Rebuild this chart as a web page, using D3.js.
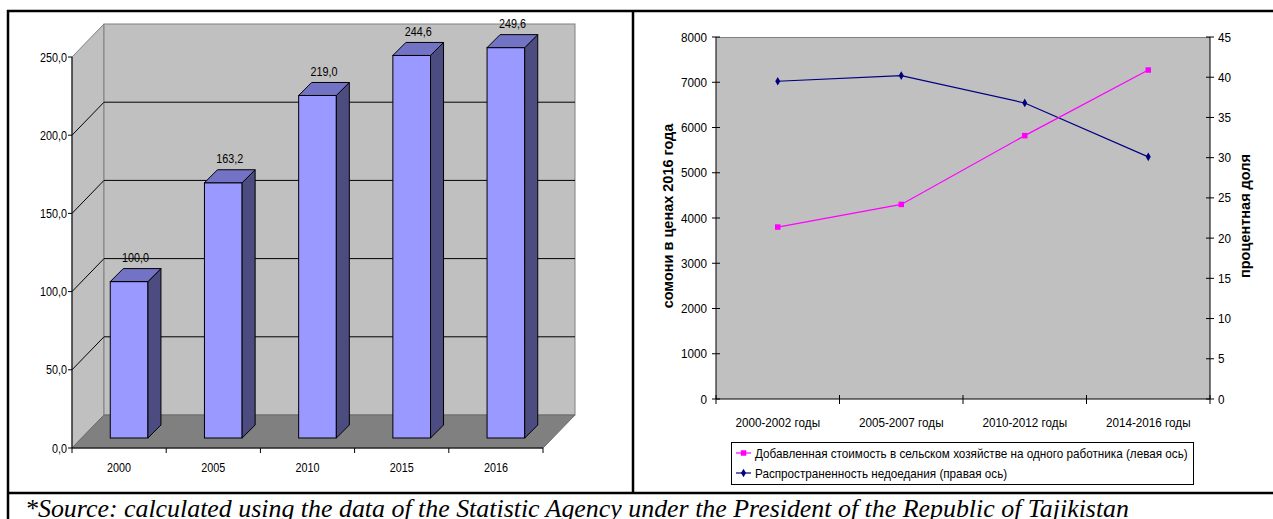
<!DOCTYPE html>
<html>
<head>
<meta charset="utf-8">
<script src="https://cdn.jsdelivr.net/npm/d3@7"></script>
<style>
  html, body { margin: 0; padding: 0; background: #fff; }
  svg { display: block; }
  text { font-family: "Liberation Sans", Arial, sans-serif; fill: #000; }
</style>
</head>
<body>
<svg id="chart" width="1273" height="519"></svg>
<script>
// Left panel: index of growth (2000 = 100)
const years = ["2000", "2005", "2010", "2015", "2016"];
const indexValues = [100.0, 163.2, 219.0, 244.6, 249.6];
const indexTicks = [0, 50, 100, 150, 200, 250];

// Right panel: value added per worker and prevalence of undernourishment
const periods = ["2000-2002 годы", "2005-2007 годы", "2010-2012 годы", "2014-2016 годы"];
const valueAdded = [3800, 4300, 5820, 7270];
const undernourishment = [39.5, 40.2, 36.8, 30.1];
const leftTicks = [0, 1000, 2000, 3000, 4000, 5000, 6000, 7000, 8000];
const rightTicks = [0, 5, 10, 15, 20, 25, 30, 35, 40, 45];
const seriesNames = [
  "Добавленная стоимость в сельском хозяйстве на одного работника (левая ось)",
  "Распространенность недоедания (правая ось)"
];
const leftTitle = "сомони в ценах 2016 года";
const rightTitle = "процентная доля";
const sourceNote = "*Source: calculated using the data of the Statistic Agency under the President of the Republic of Tajikistan";

const svg = d3.select("#chart");
const fmt = d => d.toFixed(1).replace(".", ",");

// Narrow chart lettering: text is placed at (x, y) and squeezed horizontally.
function label(parent, x, y, str, opts = {}) {
  const sx = opts.sx ?? 0.83;
  return parent.append("text")
    .attr("transform", `translate(${x},${y}) scale(${sx},1)`)
    .attr("dy", opts.dy ?? "0.35em")
    .attr("text-anchor", opts.anchor ?? "middle")
    .attr("font-size", opts.size ?? 13)
    .text(str);
}

// ---------- 3D column chart ----------
const g1 = svg.append("g");
const floorL = 72, floorR = 543, depthX = 32, depthY = 33;
const xb = d3.scaleBand().domain(years).range([floorL, floorR]).paddingInner(0.6).paddingOuter(0.3);
const yb = d3.scaleLinear().domain([0, 250]).range([448, 57]);
const y0 = yb(0), yTopWall = yb(250);

// left wall
g1.append("polygon")
  .attr("points", [[floorL, yTopWall], [floorL + depthX, yTopWall - depthY], [floorL + depthX, y0 - depthY], [floorL, y0]].join(" "))
  .attr("fill", "#c0c0c0").attr("stroke", "#808080").attr("stroke-width", 1);
// back wall
g1.append("rect")
  .attr("x", floorL + depthX).attr("y", yTopWall - depthY)
  .attr("width", floorR - floorL).attr("height", y0 - yTopWall)
  .attr("fill", "#c0c0c0").attr("stroke", "#808080").attr("stroke-width", 1);
// floor
g1.append("polygon")
  .attr("points", [[floorL, y0], [floorR, y0], [floorR + depthX, y0 - depthY], [floorL + depthX, y0 - depthY]].join(" "))
  .attr("fill", "#808080").attr("stroke", "#6a6a6a").attr("stroke-width", 1);

// gridlines on walls
const gridVals = indexTicks.filter(v => v > 0 && v < 250);
g1.selectAll("line.gback").data(gridVals).join("line")
  .attr("x1", floorL + depthX).attr("x2", floorR + depthX)
  .attr("y1", d => yb(d) - depthY).attr("y2", d => yb(d) - depthY)
  .attr("stroke", "#000").attr("stroke-width", 1);
g1.selectAll("line.gside").data(gridVals).join("line")
  .attr("x1", floorL).attr("x2", floorL + depthX)
  .attr("y1", d => yb(d)).attr("y2", d => yb(d) - depthY)
  .attr("stroke", "#000").attr("stroke-width", 1);

// value axis
g1.append("line").attr("x1", floorL).attr("x2", floorL).attr("y1", yTopWall).attr("y2", y0)
  .attr("stroke", "#000");
g1.selectAll("line.ytick").data(indexTicks).join("line")
  .attr("x1", floorL - 4).attr("x2", floorL)
  .attr("y1", d => yb(d)).attr("y2", d => yb(d)).attr("stroke", "#000");
indexTicks.forEach(v => label(g1, floorL - 5, yb(v), fmt(v), { anchor: "end" }));

// category axis
g1.append("line").attr("x1", floorL).attr("x2", floorR).attr("y1", y0).attr("y2", y0).attr("stroke", "#000");
const catEdges = years.map((d, i) => floorL + i * xb.step()).concat([floorR]);
g1.selectAll("line.xtick").data(catEdges).join("line")
  .attr("x1", d => d).attr("x2", d => d).attr("y1", y0).attr("y2", y0 + 5).attr("stroke", "#000");
years.forEach((d, i) => label(g1, floorL + i * xb.step() + xb.step() / 2, y0 + 19, d));

// columns
const barFront = 10, barDepth = 13;
years.forEach((yr, i) => {
  const v = indexValues[i];
  const g = g1.append("g");
  const x0 = xb(yr) + barFront, x1 = x0 + xb.bandwidth();
  const yt = yb(v) - barFront, ybt = y0 - barFront;
  g.append("rect").attr("x", x0).attr("y", yt).attr("width", x1 - x0).attr("height", ybt - yt)
    .attr("fill", "#9999ff").attr("stroke", "#000").attr("stroke-width", 1);
  g.append("polygon")
    .attr("points", [[x1, yt], [x1 + barDepth, yt - barDepth], [x1 + barDepth, ybt - barDepth], [x1, ybt]].join(" "))
    .attr("fill", "#4c4c80").attr("stroke", "#000").attr("stroke-width", 1);
  g.append("polygon")
    .attr("points", [[x0, yt], [x0 + barDepth, yt - barDepth], [x1 + barDepth, yt - barDepth], [x1, yt]].join(" "))
    .attr("fill", "#7373c6").attr("stroke", "#000").attr("stroke-width", 1);
  label(g, (x0 + x1) / 2 + barDepth / 2, yt - 24, fmt(v));
});

// ---------- line chart with two value axes ----------
const g2 = svg.append("g");
const pL = 716, pR = 1210, pT = 37, pB = 399;
const sxR = 0.9;
const xp = d3.scaleBand().domain(periods).range([pL, pR]);
const yLeft = d3.scaleLinear().domain([0, 8000]).range([pB, pT]);
const yRight = d3.scaleLinear().domain([0, 45]).range([pB, pT]);

g2.append("rect").attr("x", pL).attr("y", pT).attr("width", pR - pL).attr("height", pB - pT)
  .attr("fill", "#c0c0c0");
g2.append("line").attr("x1", pL).attr("x2", pR).attr("y1", pT + 0.5).attr("y2", pT + 0.5)
  .attr("stroke", "#808080");

// axes lines
g2.append("line").attr("x1", pL).attr("x2", pL).attr("y1", pT).attr("y2", pB).attr("stroke", "#000");
g2.append("line").attr("x1", pR).attr("x2", pR).attr("y1", pT).attr("y2", pB).attr("stroke", "#000");
g2.append("line").attr("x1", pL).attr("x2", pR).attr("y1", pB).attr("y2", pB).attr("stroke", "#000");

g2.selectAll("line.lt").data(leftTicks).join("line")
  .attr("x1", pL - 4).attr("x2", pL + 4)
  .attr("y1", d => yLeft(d)).attr("y2", d => yLeft(d)).attr("stroke", "#000");
leftTicks.forEach(v => label(g2, pL - 9, yLeft(v), String(v), { anchor: "end", sx: sxR }));

g2.selectAll("line.rt").data(rightTicks).join("line")
  .attr("x1", pR - 4).attr("x2", pR + 4)
  .attr("y1", d => yRight(d)).attr("y2", d => yRight(d)).attr("stroke", "#000");
rightTicks.forEach(v => label(g2, pR + 8, yRight(v), String(v), { anchor: "start", sx: sxR }));

const xEdges = periods.map(p => xp(p)).concat([pR]);
g2.selectAll("line.xt").data(xEdges).join("line")
  .attr("x1", d => d).attr("x2", d => d).attr("y1", pB - 4).attr("y2", pB + 5).attr("stroke", "#000");
periods.forEach(p => label(g2, xp(p) + xp.bandwidth() / 2, pB + 23, p, { sx: sxR }));

// axis titles
g2.append("text")
  .attr("transform", `translate(673,216) rotate(-90)`)
  .attr("text-anchor", "middle").attr("font-size", 14.5).attr("font-weight", "bold").text(leftTitle);
g2.append("text")
  .attr("transform", `translate(1250,216) rotate(-90)`)
  .attr("text-anchor", "middle").attr("font-size", 14.5).attr("font-weight", "bold").text(rightTitle);

// series
const cx = p => xp(p) + xp.bandwidth() / 2;
const pinkPts = periods.map((p, i) => [cx(p), yLeft(valueAdded[i])]);
const navyPts = periods.map((p, i) => [cx(p), yRight(undernourishment[i])]);
const line = d3.line();

g2.append("path").attr("d", line(navyPts)).attr("fill", "none").attr("stroke", "#000080").attr("stroke-width", 1.2);
g2.append("path").attr("d", line(pinkPts)).attr("fill", "none").attr("stroke", "#ff00ff").attr("stroke-width", 1.2);

const diamond = d3.symbol().type(d3.symbolDiamond).size(22);
const square = d3.symbol().type(d3.symbolSquare).size(30);
g2.selectAll("path.nm").data(navyPts).join("path")
  .attr("transform", d => `translate(${d[0]},${d[1]})`).attr("d", diamond).attr("fill", "#000080");
g2.selectAll("path.pm").data(pinkPts).join("path")
  .attr("transform", d => `translate(${d[0]},${d[1]})`).attr("d", square).attr("fill", "#ff00ff");

// legend
const lg = g2.append("g");
lg.append("rect").attr("x", 731.5).attr("y", 442.5).attr("width", 462).attr("height", 42)
  .attr("fill", "#fff").attr("stroke", "#000").attr("stroke-width", 1);
const legendItems = [
  { name: seriesNames[0], color: "#ff00ff", sym: square },
  { name: seriesNames[1], color: "#000080", sym: diamond }
];
legendItems.forEach((it, i) => {
  const yy = 453 + i * 20;
  lg.append("line").attr("x1", 736).attr("x2", 751).attr("y1", yy).attr("y2", yy)
    .attr("stroke", it.color).attr("stroke-width", 1.2);
  lg.append("path").attr("transform", `translate(743.5,${yy})`).attr("d", it.sym).attr("fill", it.color);
  label(lg, 755, yy, it.name, { anchor: "start", sx: sxR });
});

// ---------- table frame and source line ----------
const frame = svg.append("g").attr("stroke", "#000").attr("stroke-width", 2.5);
frame.append("line").attr("x1", 7).attr("x2", 1273).attr("y1", 11).attr("y2", 11);
frame.append("line").attr("x1", 8).attr("x2", 8).attr("y1", 10).attr("y2", 519);
frame.append("line").attr("x1", 633).attr("x2", 633).attr("y1", 10).attr("y2", 493);
frame.append("line").attr("x1", 7).attr("x2", 1273).attr("y1", 493).attr("y2", 493);

svg.append("text").attr("x", 25).attr("y", 517)
  .style("font-family", '"Liberation Serif", "Times New Roman", serif')
  .attr("font-style", "italic").attr("font-size", 25.9).text(sourceNote);
</script>
</body>
</html>
